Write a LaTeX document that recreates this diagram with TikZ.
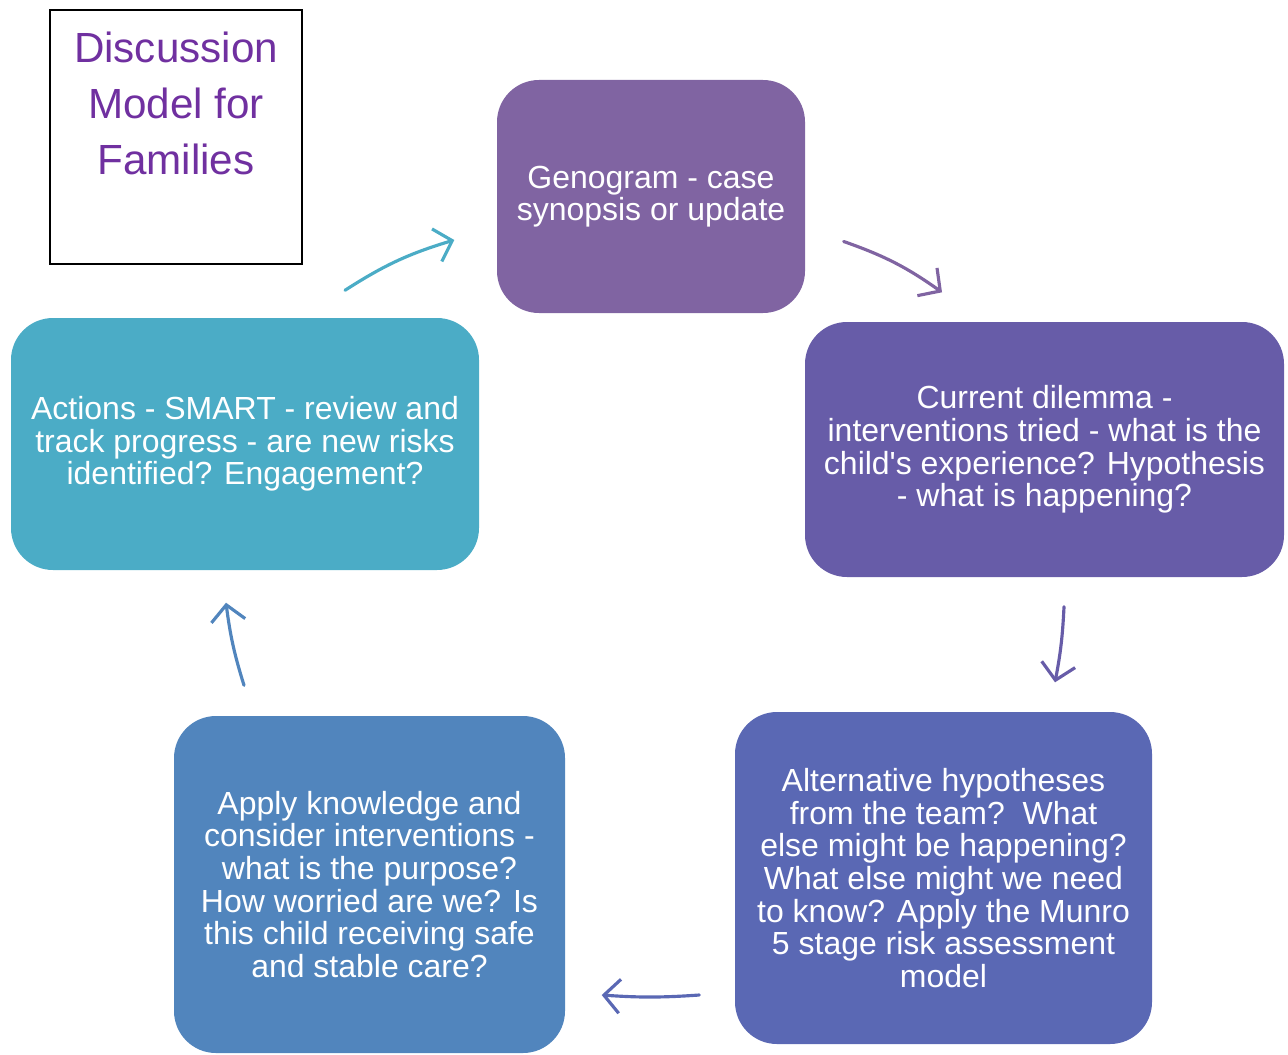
\documentclass[tikz,border=0pt]{standalone}
\usepackage{fontspec}
\setmainfont{Liberation Sans}
\usetikzlibrary{positioning,arrows.meta}

\definecolor{titlepurple}{HTML}{7030A0}
\definecolor{genocol}{HTML}{8064A2}
\definecolor{dilemmacol}{HTML}{675CA8}
\definecolor{altcol}{HTML}{5A68B4}
\definecolor{applycol}{HTML}{5185BD}
\definecolor{actioncol}{HTML}{4BACC6}

\tikzset{
    stagebox/.style={rectangle, rounded corners=0.42cm, draw=none, text=white,
        align=center, font=\fontsize{9.1}{9.3}\selectfont, inner sep=0pt},
    flow/.style={line width=0.9pt, line cap=round,
        -{Straight Barb[length=1.6mm, width=3.4mm, line width=0.9pt]}}
}

\begin{document}
\begin{tikzpicture}
        \useasboundingbox (0,0) rectangle (12.88,-10.54);
        % Title
        \node[draw=black, line width=0.5pt, minimum width=2.52cm, minimum height=2.54cm,
            inner sep=0pt] (title) at (1.76,-1.37) {};
        \node[text=titlepurple, align=center, font=\fontsize{12}{15.9}\selectfont]
            (titletxt) at (1.76,-1.035) {Discussion\\Model for\\Families};
        % Stages
        \node[stagebox, fill=genocol, minimum width=3.08cm, minimum height=2.33cm]
            (geno) at (6.51,-1.965) {Genogram - case\\synopsis or update};
        \node[stagebox, fill=dilemmacol, minimum width=4.79cm, minimum height=2.55cm]
            (dilemma) at (10.445,-4.495) {Current dilemma -\\interventions tried - what is the\\child\textquotesingle s experience? Hypothesis\\- what is happening?};
        \node[stagebox, fill=altcol, minimum width=4.17cm, minimum height=3.32cm]
            (alt) at (9.435,-8.78) {Alternative hypotheses\\from the team?\ \ What\\else might be happening?\\What else might we need\\to know? Apply the Munro\\5 stage risk assessment\\model};
        \node[stagebox, fill=applycol, minimum width=3.91cm, minimum height=3.37cm]
            (apply) at (3.695,-8.845) {Apply knowledge and\\consider interventions -\\what is the purpose?\\How worried are we? Is\\this child receiving safe\\and stable care?};
        \node[stagebox, fill=actioncol, minimum width=4.68cm, minimum height=2.52cm]
            (actions) at (2.45,-4.44) {Actions - SMART - review and\\track progress - are new risks\\identified? Engagement?};
        % Arrows
        \draw[flow, actioncol] ([shift={(1.00,0.27)}]actions.north)
            to[bend left=8] ([shift={(-0.42,-0.435)}]geno.west);
        \draw[flow, genocol] ([shift={(0.38,-0.45)}]geno.east)
            to[bend left=8] ([shift={(-1.025,0.29)}]dilemma.north);
        \draw[flow, dilemmacol] ([shift={(0.195,-0.29)}]dilemma.south)
            to[bend left=4] ([shift={(1.115,0.29)}]alt.north);
        \draw[flow, altcol] ([shift={(-0.35,-1.17)}]alt.west)
            to[bend left=4] ([shift={(0.36,-1.105)}]apply.east);
        \draw[flow, applycol] ([shift={(-1.255,0.30)}]apply.north)
            to[bend left=5] ([shift={(-0.19,-0.32)}]actions.south);
    \end{tikzpicture}
\end{document}
